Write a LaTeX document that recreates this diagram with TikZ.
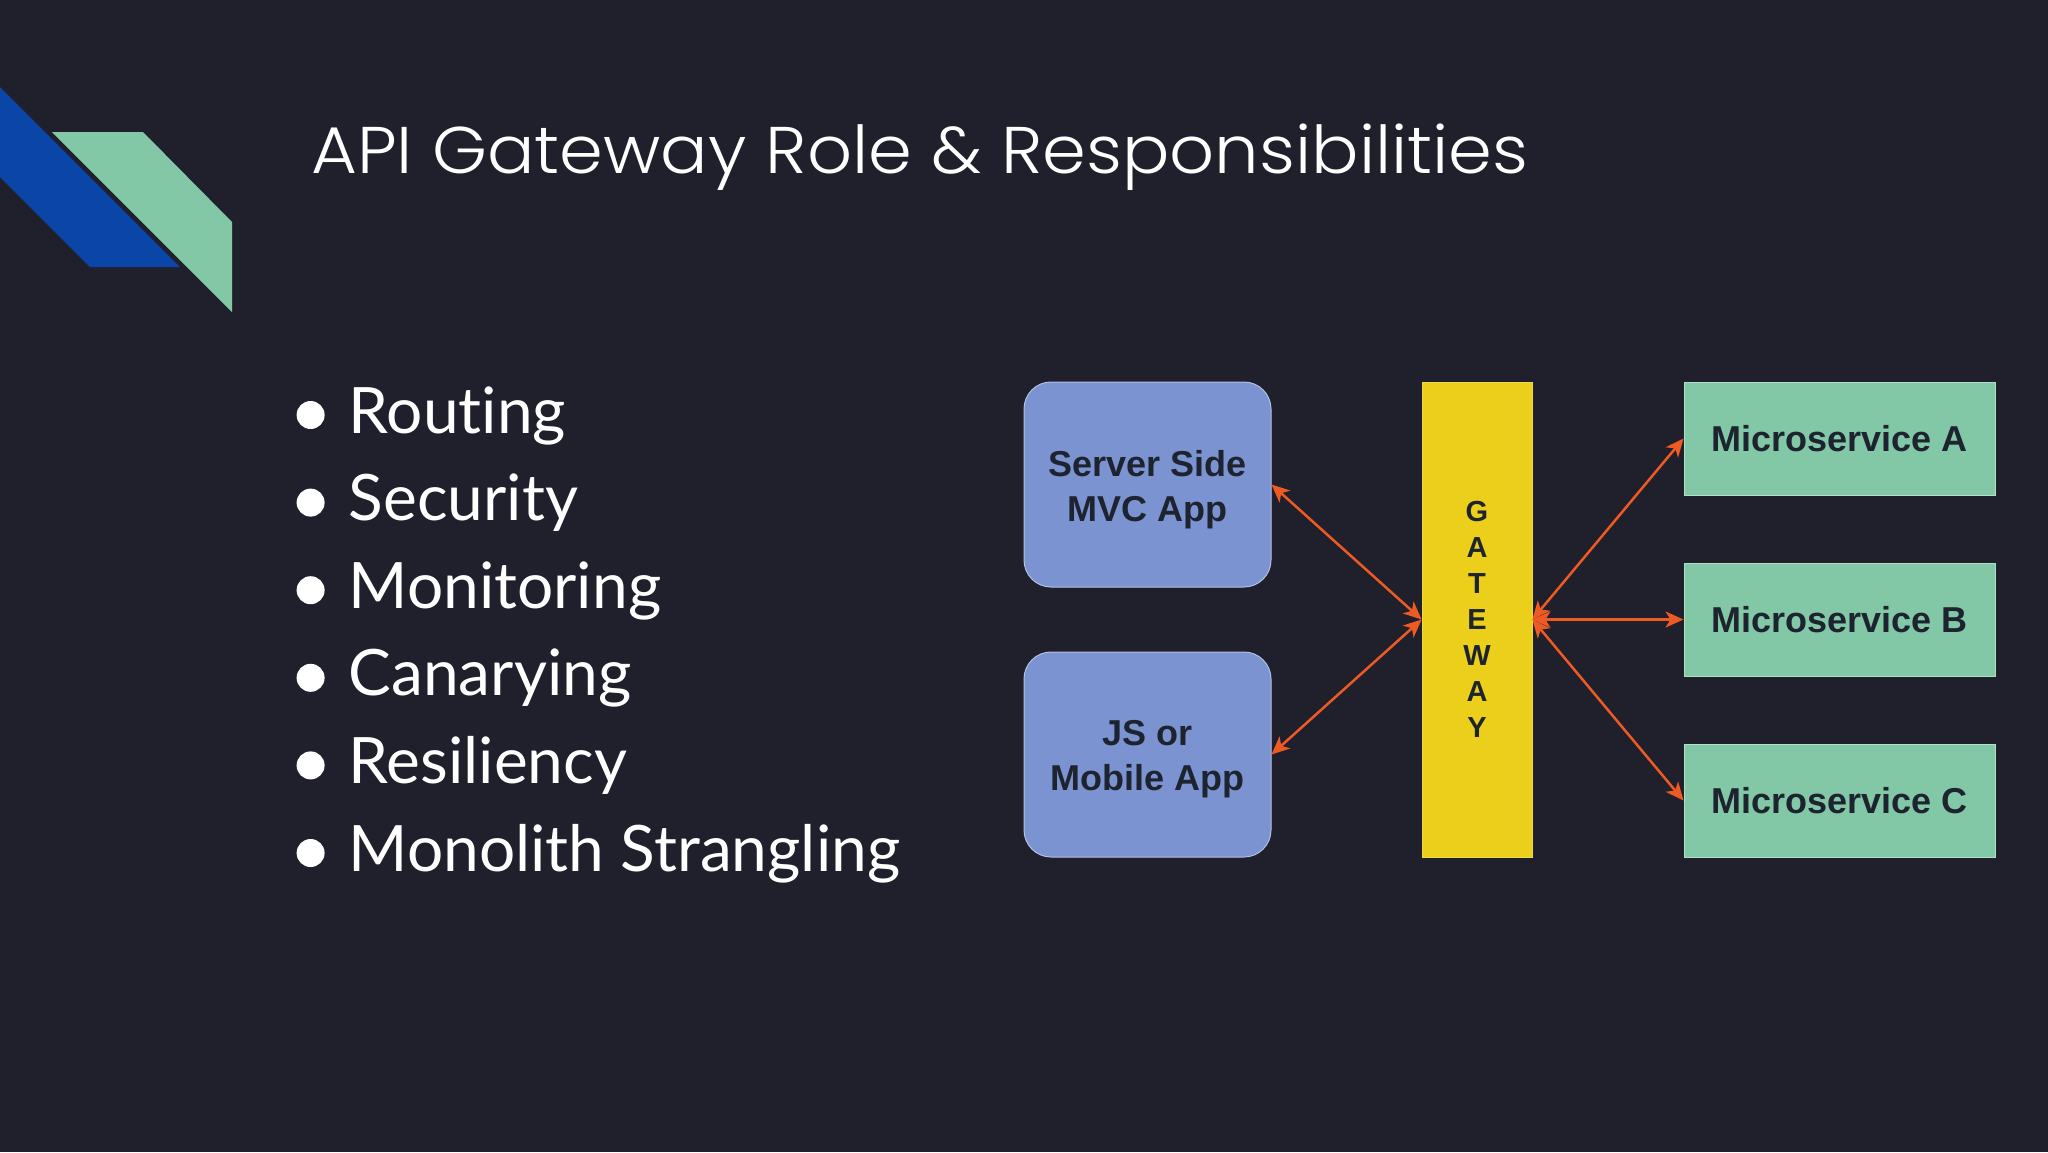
\documentclass[tikz,border=0pt]{standalone}
\usepackage{fontspec}
\setmainfont{Liberation Sans}
\newfontfamily\latof{Lato}[Ligatures=NoCommon]
\newfontfamily\titlef{Poppins Light}
\usetikzlibrary{arrows.meta}
\definecolor{bg}{HTML}{1F202C}
\definecolor{deepblue}{HTML}{0B45A8}
\definecolor{mint}{HTML}{82C8A6}
\definecolor{mintline}{HTML}{B4E0CA}
\definecolor{peri}{HTML}{7B93D0}
\definecolor{periline}{HTML}{B3C0E6}
\definecolor{gold}{HTML}{ECCF1B}
\definecolor{inktext}{HTML}{1E2330}
\definecolor{arrowc}{HTML}{EE5A24}
\tikzset{
  appbox/.style={draw=periline, line width=1pt, fill=peri, rounded corners=27pt,
    minimum width=247pt, minimum height=205pt, inner sep=0pt},
  apptext/.style={inner sep=0pt, align=center,
    text=inktext, font=\bfseries\fontsize{36}{45}\selectfont},
  msbox/.style={draw=mintline, line width=1pt, fill=mint,
    minimum width=311pt, minimum height=113pt, inner sep=0pt,
    text=inktext, font=\bfseries\fontsize{36}{45}\selectfont},
  gwbox/.style={fill=gold, draw=gold!80!white, line width=0.8pt, minimum width=110pt, minimum height=475pt,
    inner sep=0pt, align=center, text=inktext, font=\bfseries\fontsize{29}{36}\selectfont},
  bullettext/.style={anchor=base west, text=white, inner sep=0pt, font=\latof\fontsize{64}{70}\selectfont},
  bulletdot/.style={fill=white, draw=none, circle, minimum size=28pt, inner sep=0pt},
  arr/.style={draw=arrowc, line width=2.5pt,
    {Stealth[length=18pt,width=16pt,inset=5pt]}-{Stealth[length=18pt,width=16pt,inset=5pt]}}
}
\begin{document}
\begin{tikzpicture}[x=1pt,y=-1pt]
\fill[bg] (0,0) rectangle (2048,1152);
\useasboundingbox (0,0) rectangle (2048,1152);
% decoration
\fill[deepblue] (0,87) -- (180,267) -- (90,267) -- (0,177) -- cycle;
\fill[mint] (52,132) -- (143,132) -- (232,222) -- (232,312) -- cycle;
% title
\node[anchor=base west, text=white, inner sep=0pt, font=\titlef\fontsize{66}{70}\selectfont] (title) at (311,173) {\scalebox{1.066}[1]{API Gateway Role \& Responsibilities}};
% bullets
\foreach \t/\y [count=\i] in {Routing/433, Security/520.6, Monitoring/608.2, Canarying/695.8, Resiliency/783.4, Monolith Strangling/871} {
  \node[bulletdot] (dot\i) at (310.6,\y-18) {};
  \node[bullettext] (item\i) at (348.5,\y) {\t};
}
% diagram
\node[appbox] (srv) at (1147.5,484.5) {};
\node[apptext] (srvt) at ([shift={(0,5)}]srv.center) {Server Side\\MVC App};
\node[appbox] (js) at (1147.5,754.5) {};
\node[apptext] (jst) at ([shift={(0,5)}]js.center) {JS or\\Mobile App};
\node[gwbox] (gw) at (1477,619.5) {G\\A\\T\\E\\W\\A\\Y};
\node[msbox] (ma) at (1839.5,438.5) {Microservice A};
\node[msbox] (mb) at (1839.5,619.5) {Microservice B};
\node[msbox] (mc) at (1839.5,800.5) {Microservice C};
\draw[arr] (srv.east) -- (gw.west);
\draw[arr] (js.east) -- (gw.west);
\draw[arr] (gw.east) -- (ma.west);
\draw[arr] (gw.east) -- (mb.west);
\draw[arr] (gw.east) -- (mc.west);
\end{tikzpicture}
\end{document}
